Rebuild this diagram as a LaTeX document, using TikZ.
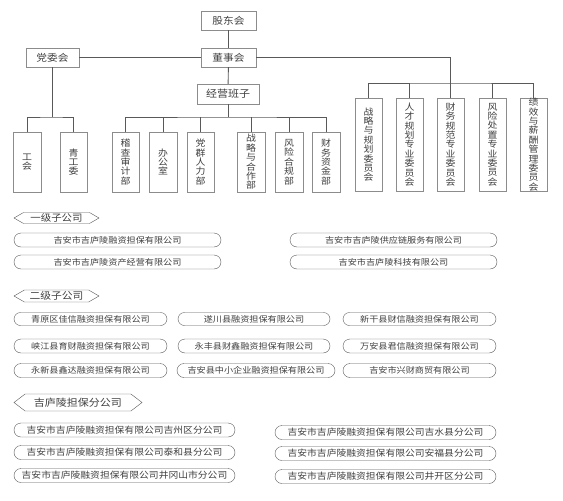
\documentclass[tikz,border=0pt]{standalone}
\usepackage{fontspec}
\setmainfont{Noto Sans CJK SC}[FakeStretch=1.1]
\usetikzlibrary{shapes.misc,shapes.symbols,positioning}
\definecolor{lgray}{HTML}{595959}
\definecolor{bgray}{HTML}{8C8C8C}
\definecolor{tgray}{HTML}{404040}
\setlength{\lineskiplimit}{-10pt}
\setlength{\lineskip}{0pt}

\begin{document}
\begin{tikzpicture}[
    x=1pt, y=-1pt,
    box/.style={rectangle, draw=bgray, fill=white, inner sep=0pt, text=tgray, minimum width=#1, minimum height=19pt, font=\fontsize{9.7}{10}\selectfont},
    vbox/.style={rectangle, draw=bgray, fill=white, inner sep=0pt, text=tgray, align=center, minimum width=27.5pt, minimum height=#1, font=\fontsize{9}{9.4}\selectfont},
    tag/.style={signal, signal to=west and east, draw=lgray, fill=white, inner ysep=0pt, inner xsep=4pt, text=tgray, minimum height=#1},
    pill/.style={rounded rectangle, draw=lgray, fill=white, inner sep=0pt, text=tgray, minimum width=#1, minimum height=14pt, font=\fontsize{8.3}{9}\selectfont},
    link/.style={draw=lgray, line width=0.9pt},
]
\useasboundingbox (0,0) rectangle (563,501);

% Top level
\node[box=55pt] (gd) at (228.5,20.5) {股东会};
\node[box=55pt] (dsh) at (228.5,57.5) {董事会};
\node[box=53pt] (dwh) at (52.5,57.5) {党委会};
\node[box=62pt, minimum height=20pt, font=\fontsize{10}{10}\selectfont] (jy) at (228,94) {经营班子};

% Party side
\node[vbox=60pt] (gh) at (27,162) {工\\会};
\node[vbox=60pt] (qgw) at (73.5,162) {青\\工\\委};

% Departments
\node[vbox=60pt] (d1) at (125.5,162) {稽\\查\\审\\计\\部};
\node[vbox=60pt] (d2) at (163,162) {办\\公\\室};
\node[vbox=60pt] (d3) at (200.5,162) {党\\群\\人\\力\\部};
\node[vbox=60pt] (d4) at (251,162) {战\\略\\与\\合\\作\\部};
\node[vbox=60pt] (d5) at (289,162) {风\\险\\合\\规\\部};
\node[vbox=60pt] (d6) at (326,162) {财\\务\\资\\金\\部};

% Committees
\node[vbox=93pt] (c1) at (368.5,144.5) {战\\略\\与\\规\\划\\委\\员\\会};
\node[vbox=93pt] (c2) at (409.5,144.5) {人\\才\\规\\划\\专\\业\\委\\员\\会};
\node[vbox=93pt] (c3) at (450.5,144.5) {财\\务\\规\\范\\专\\业\\委\\员\\会};
\node[vbox=93pt] (c4) at (492.5,144.5) {风\\险\\处\\置\\专\\业\\委\\员\\会};
\node[vbox=93pt] (c5) at (533.5,144.5) {绩\\效\\与\\薪\\酬\\管\\理\\委\\员\\会};

% Connectors
\draw[link] (gd) -- (dsh);
\draw[link] (dsh) -- (jy);
\draw[link] (dwh) -- (dsh);

\coordinate (pbus) at (52.5,117);
\draw[link] (dwh) -- (pbus);
\draw[link] (gh.north) |- (pbus) -| (qgw.north);

\coordinate (dbus) at (228,117);
\draw[link] (jy) -- (dbus);
\draw[link] (d1.north) |- (dbus) -| (d6.north);
\foreach \d in {d2,d3,d4,d5}
    \draw[link] (\d.north) -- (\d.north |- dbus);

\coordinate (cbus) at (450.5,83);
\draw[link] (dsh) -| (cbus);
\draw[link] (c1.north) |- (cbus) -| (c5.north);
\foreach \c in {c2,c3,c4}
    \draw[link] (\c.north) -- (\c.north |- cbus);

% First-level subsidiaries
\node[tag=11pt, minimum width=85pt, signal pointer angle=60, font=\fontsize{9.5}{10}\selectfont] (l1) at (56.5,218) {一级子公司};
\node[pill=207pt] (s11) at (117.5,240) {吉安市吉庐陵融资担保有限公司};
\node[pill=207pt] (s12) at (117.5,262) {吉安市吉庐陵资产经营有限公司};
\node[pill=207pt] (s13) at (393.5,240) {吉安市吉庐陵供应链服务有限公司};
\node[pill=207pt] (s14) at (393.5,262) {吉安市吉庐陵科技有限公司};

% Second-level subsidiaries
\node[tag=12pt, minimum width=85pt, signal pointer angle=60, font=\fontsize{9.8}{10}\selectfont] (l2) at (56.5,296) {二级子公司};
\node[pill=153pt, minimum height=13pt] (s21) at (90.5,319) {青原区佳信融资担保有限公司};
\node[pill=153pt] (s22) at (90.5,346) {峡江县育财融资担保有限公司};
\node[pill=153pt] (s23) at (90.5,370.5) {永新县鑫达融资担保有限公司};
\node[pill=152pt, minimum height=13pt] (s24) at (254,319) {遂川县融资担保有限公司};
\node[pill=152pt] (s25) at (254,346) {永丰县财鑫融资担保有限公司};
\node[pill=158pt] (s26) at (256,370.5) {吉安县中小企业融资担保有限公司};
\node[pill=153pt, minimum height=13pt] (s27) at (419.5,319) {新干县财信融资担保有限公司};
\node[pill=153pt] (s28) at (419.5,346) {万安县君信融资担保有限公司};
\node[pill=153pt] (s29) at (419.5,370.5) {吉安市兴财商贸有限公司};

% Branches
\node[tag=17pt, minimum width=128pt, signal pointer angle=75, font=\fontsize{10}{11}\selectfont] (l3) at (78,402.5) {吉庐陵担保分公司};
\node[pill=221pt, font=\fontsize{8.9}{10}\selectfont] (b1) at (124.5,430) {吉安市吉庐陵融资担保有限公司吉州区分公司};
\node[pill=221pt, font=\fontsize{8.9}{10}\selectfont] (b2) at (124.5,452.5) {吉安市吉庐陵融资担保有限公司泰和县分公司};
\node[pill=221pt, font=\fontsize{8.9}{10}\selectfont] (b3) at (124.5,475.5) {吉安市吉庐陵融资担保有限公司井冈山市分公司};
\node[pill=221pt, font=\fontsize{8.9}{10}\selectfont] (b4) at (385.5,432.5) {吉安市吉庐陵融资担保有限公司吉水县分公司};
\node[pill=221pt, font=\fontsize{8.9}{10}\selectfont] (b5) at (385.5,453.5) {吉安市吉庐陵融资担保有限公司安福县分公司};
\node[pill=221pt, font=\fontsize{8.9}{10}\selectfont] (b6) at (385.5,476.5) {吉安市吉庐陵融资担保有限公司井开区分公司};

\end{tikzpicture}
\end{document}
